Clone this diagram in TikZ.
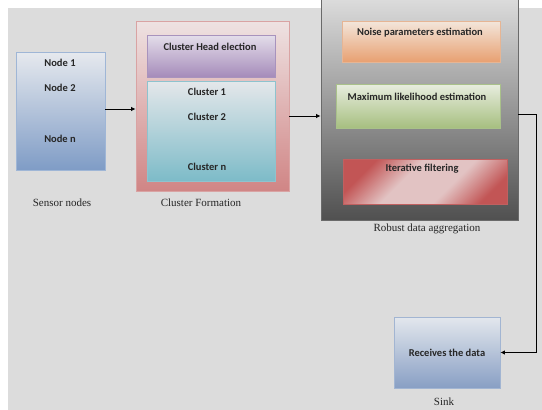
\documentclass[tikz,border=0pt]{standalone}
\usepackage{fontspec}
\setmainfont{Liberation Serif}
\newfontfamily\boxfont{Carlito}
\usetikzlibrary{arrows.meta,shadows}
\definecolor{bg}{HTML}{DCDCDC}
\definecolor{sensTop}{HTML}{E6E9EE}
\definecolor{sensBot}{HTML}{7F9CC6}
\definecolor{sensLine}{HTML}{9FB6D6}
\definecolor{cfTop}{HTML}{EEE2E2}
\definecolor{cfBot}{HTML}{D08585}
\definecolor{cfLine}{HTML}{D9A3A3}
\definecolor{cheTop}{HTML}{E4DEEA}
\definecolor{cheBot}{HTML}{A58BBA}
\definecolor{cheLine}{HTML}{A893BD}
\definecolor{clTop}{HTML}{E4E7EA}
\definecolor{clBot}{HTML}{7DBBC8}
\definecolor{clLine}{HTML}{8EC3CE}
\definecolor{rbTop}{HTML}{DEDEDE}
\definecolor{rbBot}{HTML}{505050}
\definecolor{rbLine}{HTML}{6A6A6A}
\definecolor{nsTop}{HTML}{F3E6DB}
\definecolor{nsBot}{HTML}{E8A071}
\definecolor{nsLine}{HTML}{E6B594}
\definecolor{mlTop}{HTML}{E8EDDF}
\definecolor{mlBot}{HTML}{A6BF80}
\definecolor{mlLine}{HTML}{A9C18A}
\definecolor{itA}{HTML}{C25555}
\definecolor{itB}{HTML}{E2C3C3}
\definecolor{itLine}{HTML}{C06060}
\definecolor{skTop}{HTML}{E3E7ED}
\definecolor{skBot}{HTML}{889FC4}
\definecolor{skLine}{HTML}{A2B5D2}
\pgfdeclarehorizontalshading{itshade}{100bp}{color(0bp)=(itA); color(26bp)=(itA); color(42bp)=(itB); color(60bp)=(itB); color(76bp)=(itA); color(100bp)=(itA)}
\tikzset{
  box/.style={rectangle, inner sep=0pt, line width=0.9pt,
    drop shadow={shadow xshift=0.6pt, shadow yshift=-1.4pt, opacity=0.35, fill=black}},
  btxt/.style={font=\boxfont\bfseries\fontsize{10.5}{12}\selectfont, inner sep=0pt, text=black!85},
  lbl/.style={font=\fontsize{11}{13}\selectfont, inner sep=0pt, text=black!85},
  arr/.style={line width=0.8pt, -{Latex[length=4.5pt,width=4.5pt]}},
}
\begin{document}
\begin{tikzpicture}[x=1pt,y=-1pt]
\useasboundingbox (0,0) rectangle (542,410);
\fill[white] (0,0) rectangle (542,410);
\fill[bg] (8,8) rectangle (542,410);

% sensor nodes
\node[box, draw=sensLine, top color=sensTop, bottom color=sensBot,
  minimum width=89pt, minimum height=118pt] (sensor) at (60.5,111) {};
\node[btxt] (n1) at (60,63) {Node 1};
\node[btxt] (n2) at (60,88) {Node 2};
\node[btxt] (nn) at (60,139) {Node n};
\node[lbl] (lsens) at (62,203) {Sensor nodes};

% cluster formation
\node[box, draw=cfLine, top color=cfTop, bottom color=cfBot,
  minimum width=153pt, minimum height=170pt] (cf) at (212.5,106) {};
\node[box, draw=cheLine, top color=cheTop, bottom color=cheBot,
  minimum width=128pt, minimum height=42pt] (che) at (211,56) {};
\node[box, draw=clLine, top color=clTop, bottom color=clBot,
  minimum width=128pt, minimum height=100pt] (cl) at (211,131) {};
\node[btxt] (tche) at (210,47) {Cluster Head election};
\node[btxt] (c1) at (207,92) {Cluster 1};
\node[btxt] (c2) at (207,117) {Cluster 2};
\node[btxt] (cn) at (207,167) {Cluster n};
\node[lbl] (lcf) at (201,203) {Cluster Formation};

% robust data aggregation
\node[box, draw=rbLine, top color=rbTop, bottom color=rbBot,
  minimum width=197pt, minimum height=225pt] (rb) at (419.5,107.5) {};
\node[box, draw=nsLine, top color=nsTop, bottom color=nsBot,
  minimum width=158pt, minimum height=41pt] (ns) at (421,41.5) {};
\node[box, draw=mlLine, top color=mlTop, bottom color=mlBot,
  minimum width=164pt, minimum height=44pt] (ml) at (418,106) {};
\node[box, draw=itLine, shading=itshade, shading angle=-45,
  minimum width=164pt, minimum height=45pt] (it) at (425,181.5) {};
\node[btxt] (tns) at (420,33) {Noise parameters estimation};
\node[btxt] (tml) at (417,97) {Maximum likelihood estimation};
\node[btxt] (tit) at (422,169) {Iterative filtering};
\node[lbl] (lrb) at (427,229) {Robust data aggregation};

% sink
\node[box, draw=skLine, top color=skTop, bottom color=skBot,
  minimum width=106pt, minimum height=71pt] (sk) at (447,352.5) {};
\node[btxt] (tsk) at (447,353) {Receives the data};
\node[lbl] (lsk) at (444,402) {Sink};

% connectors
\coordinate (a1) at ([yshift=2pt]sensor.east);
\draw[arr] (a1) -- (a1 -| cf.west);
\coordinate (a2) at ([yshift=-10pt]cf.east);
\draw[arr] (a2) -- (a2 -| rb.west);
\coordinate (a3) at ([yshift=-6.5pt]rb.east);
\coordinate (a4) at (536,114);
\draw[arr] (a3) -- (a4) |- (sk.east);
\end{tikzpicture}
\end{document}
